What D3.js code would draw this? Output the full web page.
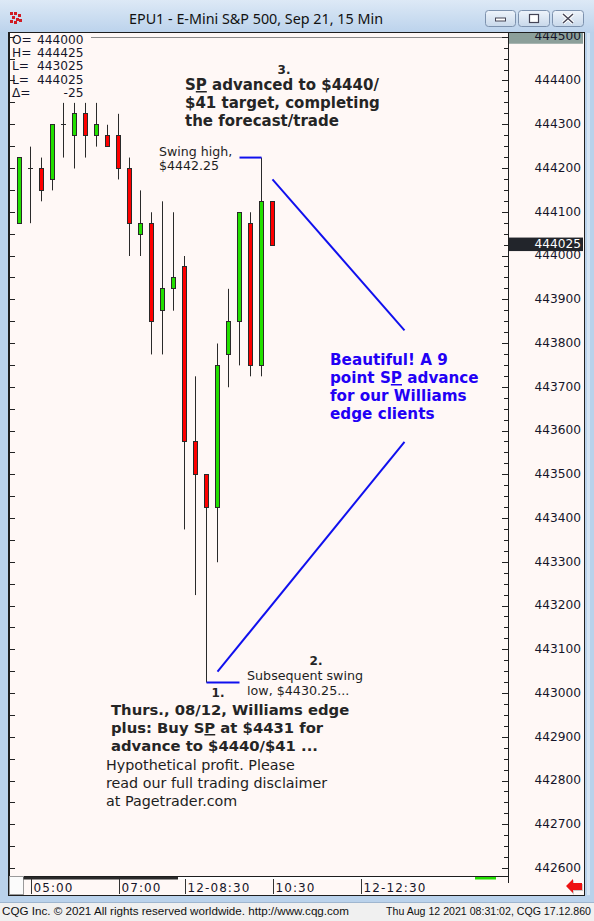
<!DOCTYPE html>
<html><head><meta charset="utf-8">
<script src="https://cdn.jsdelivr.net/npm/d3@7"></script>
<style>html,body{margin:0;padding:0;background:#fff;overflow:hidden}</style>
</head><body><svg id="c" width="594" height="921"></svg>
<script>
// ---------- data ----------
const times  = ["04:45","05:00","05:15","05:30","05:45","06:00","06:15","06:30","06:45","07:00","07:15","07:30",
                "07:45","08:00","08:15","08:30","08:45","09:00","09:15","09:30","09:45","10:00","10:15","10:30"];
const opens  = [444075,444200,444200,444175,444300,444275,444325,444275,444275,444275,444200,444050,
                444075,443875,443925,443975,443575,443500,443425,443775,443850,444075,443750,444125];
const highs  = [444225,444250,444225,444300,444350,444350,444350,444350,444300,444325,444225,444150,
                444100,444125,444100,444000,443725,443500,443800,443925,444100,444100,444225,444125];
const lows   = [444075,444075,444125,444150,444225,444200,444225,444250,444250,444175,444000,444000,
                443775,443775,443875,443375,443225,443025,443300,443700,443750,443725,443725,444025];
const closes = [444225,444200,444150,444300,444300,444325,444275,444300,444250,444200,444075,444075,
                443850,443925,443950,443575,443500,443425,443750,443850,444100,443750,444125,444025];
const yTicks = [444500,444400,444300,444200,444100,444000,443900,443800,443700,443600,443500,443400,
                443300,443200,443100,443000,442900,442800,442700,442600];
const xTickTimes  = ["05:00","07:00","08:30","10:30","12:30"];
const xTickLabels = ["05:00","07:00","12-08:30","10:30","12-12:30"];
const headerLabels = ["O=","H=","L=","L=","Δ="];
const headerValues = ["444000","444425","443025","444025","-25"];
const titleText = "EPU1 - E-Mini S&P 500, Sep 21, 15 Min";
const footerLeft = "CQG Inc. © 2021 All rights reserved worldwide. http://www.cqg.com";
const footerRight = "Thu Aug 12 2021 08:31:02, CQG 17.12.860";
const swingHigh = {from:"09:45", to:"10:15", price:444225};
const swingLow  = {from:"09:00", to:"09:45", price:443025};
const arrowUp   = {t1:"10:30", p1:444175, t2:"13:30", p2:443830};
const arrowDown = {t1:"09:15", p1:443050, t2:"13:30", p2:443575};

// ---------- setup ----------
const svg = d3.select("#c");
const parse = d3.timeParse("%H:%M");
const x = d3.scaleTime().domain([parse("04:45"), parse("10:30")]).range([19.5, 272.5]);
const y = d3.scaleLinear().domain([442600, 444000]).range([868.5, 256]);
const candles = times.map((t,i)=>({t:parse(t), o:opens[i], h:highs[i], l:lows[i], c:closes[i]}));
const crisp = v => Math.round(v - 0.5) + 0.5;

const defs = svg.append("defs");
const g1 = defs.append("linearGradient").attr("id","tb").attr("x1",0).attr("y1",0).attr("x2",0).attr("y2",1);
g1.append("stop").attr("offset",0).attr("stop-color","#dde9f6");
g1.append("stop").attr("offset",1).attr("stop-color","#bcd3ec");
const g2 = defs.append("linearGradient").attr("id","btn").attr("x1",0).attr("y1",0).attr("x2",0).attr("y2",1);
g2.append("stop").attr("offset",0).attr("stop-color","#eef4fb");
g2.append("stop").attr("offset",1).attr("stop-color","#c8d8ea");
defs.append("clipPath").attr("id","frameClip").append("rect").attr("x",9).attr("y",33).attr("width",575).attr("height",862);

// window frame
svg.append("rect").attr("width",594).attr("height",921).attr("fill","#bad2eb");
svg.append("rect").attr("width",594).attr("height",32).attr("fill","url(#tb)");
svg.append("rect").attr("x",0).attr("y",903).attr("width",594).attr("height",18).attr("fill","#f0f0f0");
svg.append("line").attr("x1",0).attr("x2",594).attr("y1",902.5).attr("y2",902.5).attr("stroke","#9fb6cf");
svg.append("rect").attr("x",587).attr("y",33).attr("width",3).attr("height",862).attr("fill","#d6e5f4");

// title icon
const icon = svg.append("g").attr("transform","translate(10,12)");
[[0,0],[4,0],[8,2],[2,4],[6,6],[0,8],[9,7],[4,9]].forEach(([a,b])=>icon.append("rect").attr("x",a).attr("y",b).attr("width",3).attr("height",3).attr("fill","#d01c24"));
svg.append("text").attr("x",129).attr("y",24).attr("font-family","Noto Sans, sans-serif").attr("font-size",14.5)
  .attr("fill","#111").attr("textLength",254).attr("lengthAdjust","spacingAndGlyphs").text(titleText);

// buttons
[[485,30],[518,31],[552,31]].forEach(([bx,bw],k)=>{
  svg.append("rect").attr("x",bx+0.5).attr("y",10.5).attr("width",bw).attr("height",16).attr("rx",3)
    .attr("fill","url(#btn)").attr("stroke","#7d92ae");
  const cx = bx + bw/2 + 0.5;
  if(k===0) svg.append("rect").attr("x",cx-5).attr("y",18).attr("width",10).attr("height",3).attr("fill","#fff").attr("stroke","#445");
  if(k===1) svg.append("rect").attr("x",cx-4.5).attr("y",14.5).attr("width",9).attr("height",8).attr("fill","#fff").attr("stroke","#445").attr("stroke-width",1.2);
  if(k===2){
    svg.append("path").attr("d",`M${cx-5},14 L${cx+5},23 M${cx+5},14 L${cx-5},23`).attr("stroke","#fff").attr("stroke-width",3.5);
    svg.append("path").attr("d",`M${cx-5},14 L${cx+5},23 M${cx+5},14 L${cx-5},23`).attr("stroke","#445").attr("stroke-width",1.4);
  }
});

// chart frame
svg.append("rect").attr("x",8.5).attr("y",32.5).attr("width",576).attr("height",863).attr("fill","#fff8f6").attr("stroke","#1e1e1e");

const chart = svg.append("g").attr("clip-path","url(#frameClip)");

// plot borders
chart.append("line").attr("x1",91).attr("x2",508).attr("y1",crisp(y(444500))).attr("y2",crisp(y(444500))).attr("stroke","#8a8a8a");
chart.append("line").attr("x1",508.5).attr("x2",508.5).attr("y1",33).attr("y2",883).attr("stroke","#1e1e1e");
chart.append("line").attr("x1",9.5).attr("x2",9.5).attr("y1",33).attr("y2",877).attr("stroke","#1e1e1e");
chart.append("line").attr("x1",20).attr("x2",508).attr("y1",876.5).attr("y2",876.5).attr("stroke","#1e1e1e");

// left ticks every 50
d3.range(442600, 444501, 50).forEach(v=>{
  chart.append("line").attr("x1",10).attr("x2",15).attr("y1",crisp(y(v))).attr("y2",crisp(y(v))).attr("stroke","#222");
});
// right ticks every 25
d3.range(442600, 444501, 25).forEach(v=>{
  const len = v % 100 === 0 ? 6 : 4;
  chart.append("line").attr("x1",508-len).attr("x2",508).attr("y1",crisp(y(v))).attr("y2",crisp(y(v))).attr("stroke","#222");
});

// y-axis labels
const yAxis = d3.axisRight(y).tickValues(yTicks).tickSize(0).tickPadding(0).tickFormat(d3.format("d"));
const ya = chart.append("g").attr("transform","translate(581,0)").call(yAxis);
ya.select(".domain").remove();
ya.selectAll("text").attr("text-anchor","end").attr("dy","0.32em").attr("y",-1)
  .attr("font-family","DejaVu Sans, sans-serif").attr("font-size",12.2).attr("fill","#15152a");
// top label box
chart.append("rect").attr("x",509).attr("y",y(444500)-7).attr("width",74).attr("height",13.5).attr("fill","#8c9f9a");
chart.append("text").attr("x",581).attr("y",y(444500)-1).attr("dy","0.32em").attr("text-anchor","end")
  .attr("font-family","DejaVu Sans, sans-serif").attr("font-size",12.2).attr("fill","#15152a").text("444500");
// last price box
const last = closes[closes.length-1];
chart.append("rect").attr("x",509).attr("y",y(last)-7.5).attr("width",74).attr("height",13.5).attr("fill","#22252b");
chart.append("text").attr("x",581).attr("y",y(last)-1).attr("dy","0.32em").attr("text-anchor","end")
  .attr("font-family","DejaVu Sans, sans-serif").attr("font-size",12.2).attr("fill","#fff").text(d3.format("d")(last));

// header OHLC
headerLabels.forEach((lab,i)=>{
  const by = 43.8 + i*13.25;
  chart.append("text").attr("x",12).attr("y",by).attr("font-family","DejaVu Sans, sans-serif").attr("font-size",12.2).attr("fill","#15152a").text(lab);
  chart.append("text").attr("x",83.5).attr("y",by).attr("text-anchor","end").attr("font-family","DejaVu Sans, sans-serif").attr("font-size",12.2).attr("fill","#15152a").text(headerValues[i]);
});

// candles
const cg = chart.append("g");
candles.forEach(d=>{
  const cx = crisp(x(d.t));
  cg.append("line").attr("x1",cx).attr("x2",cx).attr("y1",y(d.h)).attr("y2",y(d.l)).attr("stroke","#2a2a2a");
  if(d.o===d.c){
    cg.append("line").attr("x1",cx-2.5).attr("x2",cx+2.5).attr("y1",crisp(y(d.c))).attr("y2",crisp(y(d.c))).attr("stroke","#2a2a2a");
  } else {
    const top = crisp(y(Math.max(d.o,d.c))), bot = crisp(y(Math.min(d.o,d.c)));
    cg.append("rect").attr("x",cx-2).attr("y",top).attr("width",4).attr("height",bot-top)
      .attr("fill", d.c>d.o ? "#22e000" : "#ff0000").attr("stroke","#2a2a2a");
  }
});

// annotation lines
const blue = "#1010ee";
chart.append("line").attr("x1",x(parse(swingHigh.from))).attr("x2",x(parse(swingHigh.to))).attr("y1",y(swingHigh.price)).attr("y2",y(swingHigh.price)).attr("stroke",blue).attr("stroke-width",2);
chart.append("line").attr("x1",x(parse(swingLow.from))).attr("x2",x(parse(swingLow.to))).attr("y1",y(swingLow.price)).attr("y2",y(swingLow.price)).attr("stroke",blue).attr("stroke-width",2);
[arrowUp, arrowDown].forEach(a=>{
  chart.append("line").attr("x1",x(parse(a.t1))).attr("y1",y(a.p1)).attr("x2",x(parse(a.t2))).attr("y2",y(a.p2)).attr("stroke",blue).attr("stroke-width",2);
});

// text annotations
function block(lines, x0, y0, lh, opts){
  const t = chart.append("text").attr("font-family", opts.family||"DejaVu Sans, sans-serif")
    .attr("font-size",opts.size).attr("font-weight",opts.weight||"normal").attr("fill",opts.fill||"#222");
  lines.forEach((ln,i)=>{
    const tl = t.append("tspan").attr("x",x0).attr("y",y0+i*lh);
    const parts = ln.split("SP");
    parts.forEach((p,k)=>{
      tl.append("tspan").text(p);
      if(k<parts.length-1){
        tl.append("tspan").text("S");
        tl.append("tspan").attr("text-decoration","underline").text("P");
      }
    });
  });
  return t;
}
const dark = "#252525";
chart.append("text").attr("x",284).attr("y",74).attr("text-anchor","middle").attr("font-family","DejaVu Sans, sans-serif").attr("font-size",12).attr("font-weight","bold").attr("fill",dark).text("3.");
block(["SP advanced to $4440/","$41 target, completing","the forecast/trade"],185,90,18,{size:15,weight:"bold",fill:dark});
block(["Swing high,","$4442.25"],159,156,14,{size:12.6,fill:"#1e1e1e"});
block(["Beautiful! A 9","point SP advance","for our Williams","edge clients"],330,365,18,{size:15.2,weight:"bold",fill:"#2200f5"});
chart.append("text").attr("x",316).attr("y",665).attr("text-anchor","middle").attr("font-family","DejaVu Sans, sans-serif").attr("font-size",12).attr("font-weight","bold").attr("fill",dark).text("2.");
block(["Subsequent swing","low, $4430.25..."],247,679.5,15,{size:12.7,fill:"#1e1e1e"});
chart.append("text").attr("x",218).attr("y",697).attr("text-anchor","middle").attr("font-family","DejaVu Sans, sans-serif").attr("font-size",12).attr("font-weight","bold").attr("fill",dark).text("1.");
block(["Thurs., 08/12, Williams edge","plus: Buy SP at $4431 for","advance to $4440/$41 ..."],111,715,18,{size:14.8,weight:"bold",fill:dark});
block(["Hypothetical profit. Please","read our full trading disclaimer","at Pagetrader.com"],106,770,18,{size:14.3,fill:"#1e1e1e"});

// bottom x-axis area
svg.append("rect").attr("x",9.5).attr("y",876.5).attr("width",14).attr("height",18).attr("fill","#fbfbfb").attr("stroke","#9a9a9a");
svg.append("rect").attr("x",23.5).attr("y",877).attr("width",154.5).attr("height",2.5).attr("fill","#2a2a2a");
svg.append("rect").attr("x",178).attr("y",877).attr("width",297).attr("height",2.5).attr("fill","#ffffff");
svg.append("rect").attr("x",475).attr("y",877).attr("width",21).attr("height",2.5).attr("fill","#22dd00");
const xa = svg.append("g").attr("transform","translate(0,879)")
  .call(d3.axisBottom(x).tickValues(xTickTimes.map(parse)).tickSize(15).tickFormat((d,i)=>xTickLabels[i]));
xa.select(".domain").remove();
xa.selectAll(".tick line").attr("stroke","#333").attr("transform","translate(0.5,0)");
xa.selectAll(".tick text").attr("text-anchor","start").attr("x",2.5).attr("y",12.5).attr("dy",0)
  .attr("font-family","DejaVu Sans, sans-serif").attr("font-size",12).attr("letter-spacing",1.1).attr("fill","#15152a");

// red arrow
svg.append("path").attr("d","M567,887 L574,880 L574,884 L583,884 L583,891 L574,891 L574,895 Z").attr("fill","#9a9a9a").attr("opacity",0.5);
svg.append("path").attr("d","M566,886 L573,879 L573,883 L582,883 L582,890 L573,890 L573,893 Z").attr("fill","#ee1111");

// footer
svg.append("text").attr("x",2).attr("y",915).attr("font-family","Liberation Sans, Arial, sans-serif").attr("font-size",11.5)
  .attr("fill","#111").attr("textLength",347).attr("lengthAdjust","spacingAndGlyphs").text(footerLeft);
svg.append("text").attr("x",591).attr("y",915).attr("text-anchor","end").attr("font-family","Liberation Sans, Arial, sans-serif").attr("font-size",10.6)
  .attr("fill","#111").text(footerRight);
</script></body></html>
